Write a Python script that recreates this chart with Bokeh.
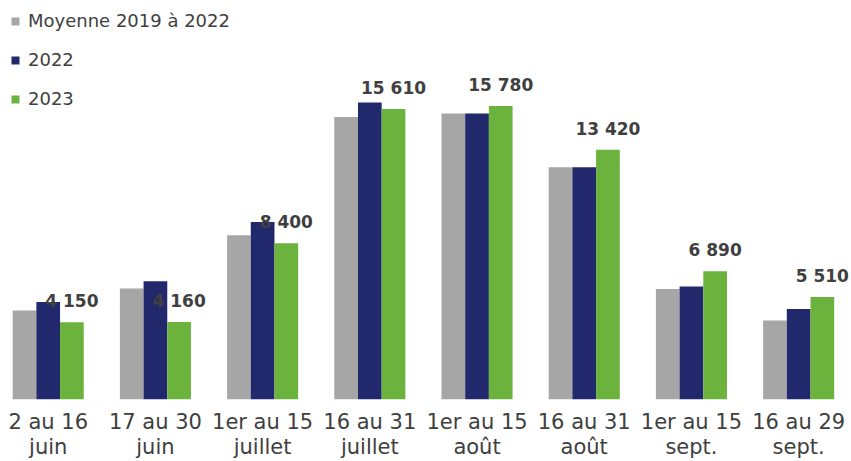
from bokeh.plotting import figure
from bokeh.models import ColumnDataSource, Range1d, FixedTicker, LabelSet, Legend, LegendItem
from bokeh.core.properties import value
from bokeh.embed import file_html
from bokeh.resources import INLINE

categories = ["2 au 16\njuin", "17 au 30\njuin", "1er au 15\njuillet", "16 au 31\njuillet",
              "1er au 15\naoût", "16 au 31\naoût", "1er au 15\nsept.", "16 au 29\nsept."]
moyenne = [4790, 5970, 8830, 15190, 15370, 12490, 5940, 4240]
y2022 = [5240, 6360, 9540, 15960, 15370, 12490, 6080, 4860]
y2023 = [4150, 4160, 8400, 15610, 15780, 13420, 6890, 5510]
labels2023 = ["4 150", "4 160", "8 400", "15 610", "15 780", "13 420", "6 890", "5 510"]

series_names = ["Moyenne 2019 à 2022", "2022", "2023"]
colors = ["#A6A6A6", "#21286B", "#6CB33E"]

idx = list(range(len(categories)))
bw = 0.221

p = figure(width=851, height=461, output_backend="svg", toolbar_location=None,
           x_range=Range1d(-0.445, 7.493), y_range=Range1d(0, 21448),
           min_border_left=0, min_border_right=0, min_border_top=0, min_border_bottom=0)
p.outline_line_color = None
p.xgrid.visible = False
p.ygrid.visible = False
p.yaxis.visible = False

renderers = []
for k, (vals, col) in enumerate(zip([moyenne, y2022, y2023], colors)):
    src = ColumnDataSource(dict(x=[i + (k - 1) * bw for i in idx], top=vals))
    r = p.vbar(x="x", top="top", width=bw, bottom=0, source=src,
               fill_color=col, line_color=None)
    renderers.append(r)

lab_src = ColumnDataSource(dict(x=[i + bw for i in idx], y=y2023, t=labels2023))
labels = LabelSet(x="x", y="y", text="t", source=lab_src, y_offset=15,
                  text_align="center", text_baseline="alphabetic",
                  text_font=value("DejaVu Sans"), text_font_style="bold",
                  text_font_size="17px", text_color="#404040")
p.add_layout(labels)

ax = p.xaxis[0]
ax.ticker = FixedTicker(ticks=idx)
ax.major_label_overrides = {i: c for i, c in zip(idx, categories)}
ax.axis_line_color = None
ax.major_tick_line_color = None
ax.minor_tick_line_color = None
ax.major_tick_out = 0
ax.major_tick_in = 0
ax.major_label_standoff = 10
ax.major_label_text_font = "DejaVu Sans"
ax.major_label_text_font_size = "21px"
ax.major_label_text_color = "#404040"
ax.major_label_text_line_height = 1.05

legend = Legend(items=[LegendItem(label=n, renderers=[r]) for n, r in zip(series_names, renderers)],
                location="top_left", margin=10, padding=3,
                glyph_width=10, glyph_height=10, label_standoff=8, spacing=18,
                label_text_font="DejaVu Sans", label_text_font_size="18px",
                label_text_color="#404040", border_line_color=None,
                background_fill_alpha=0)
p.add_layout(legend)

open("out.html", "w").write(file_html(p, INLINE))
